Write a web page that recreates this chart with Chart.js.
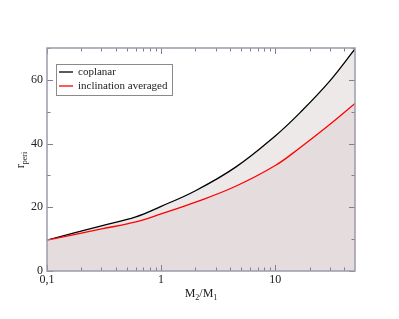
<!DOCTYPE html>
<html>
<head>
<meta charset="utf-8">
<script src="https://cdn.jsdelivr.net/npm/chart.js@4/dist/chart.umd.min.js"></script>
<style>
	html,body{margin:0;padding:0;background:#fff;}
	#wrap{width:399px;height:319px;position:relative;}
</style>
</head>
<body>
<div id="wrap"><canvas id="peri"></canvas></div>
<script>
	'use strict';

	// values
	var massRatio = [0.1, 0.3, 0.6, 1, 2, 4.5, 10, 16.6, 30, 50];
	var coplanar = [9.7, 14.2, 17.0, 20.3, 25.2, 32.6, 42.4, 49.8, 59.6, 69.7];
	var inclAveraged = [9.7, 13.2, 15.4, 17.9, 21.6, 26.6, 33.1, 38.8, 46.0, 52.6];

	var xMajor = [0.1, 1, 10];
	var xMinor = [0.2, 0.3, 0.4, 0.5, 0.6, 0.7, 0.8, 0.9, 2, 3, 4, 5, 6, 7, 8, 9, 20, 30, 40];
	var yTicks = [0, 10, 20, 30, 40, 50, 60, 70];
	var yLabelled = [0, 20, 40, 60];

	var serif = '"Liberation Serif", "DejaVu Serif", serif';
	var frameColor = '#9c9cac';
	var tickColor = '#7e7e98';

	function points(ys){
		return massRatio.map(function(x, i){ return {x: x, y: ys[i]}; });
	}

	// frame with inward ticks on all four sides, boxed legend, axis titles
	var decor = {
		id: 'decor',
		afterDraw: function(chart){
			var ctx = chart.ctx;
			var a = chart.chartArea;
			var sx = chart.scales.x, sy = chart.scales.y;
			ctx.save();

			ctx.strokeStyle = tickColor;
			ctx.lineWidth = 1;
			ctx.beginPath();
			xMajor.concat(xMinor).forEach(function(v){
				var px = Math.round(sx.getPixelForValue(v)) + 0.5;
				var len = xMajor.indexOf(v) >= 0 ? 6 : 3.5;
				ctx.moveTo(px, a.bottom); ctx.lineTo(px, a.bottom - len);
				ctx.moveTo(px, a.top); ctx.lineTo(px, a.top + len);
			});
			yTicks.forEach(function(v){
				var py = Math.round(sy.getPixelForValue(v)) + 0.5;
				var len = yLabelled.indexOf(v) >= 0 ? 6 : 3.5;
				ctx.moveTo(a.left, py); ctx.lineTo(a.left + len, py);
				ctx.moveTo(a.right, py); ctx.lineTo(a.right - len, py);
			});
			ctx.stroke();

			ctx.strokeStyle = frameColor;
			ctx.lineWidth = 1.5;
			ctx.strokeRect(a.left, a.top, a.right - a.left, a.bottom - a.top);

			// legend
			var lx = 56.5, ly = 64.5;
			ctx.fillStyle = '#fff';
			ctx.fillRect(lx, ly, 116, 31);
			ctx.strokeStyle = '#8a8a8a';
			ctx.lineWidth = 1;
			ctx.strokeRect(lx, ly, 116, 31);
			ctx.font = '11px ' + serif;
			ctx.textBaseline = 'middle';
			chart.data.datasets.forEach(function(ds, i){
				var y = 72 + i * 14;
				ctx.strokeStyle = ds.borderColor;
				ctx.lineWidth = 1.3;
				ctx.beginPath();
				ctx.moveTo(59, y); ctx.lineTo(73, y);
				ctx.stroke();
				ctx.fillStyle = '#222';
				ctx.fillText(ds.label, 78, y + 0.5);
			});

			// x title  M2/M1
			ctx.fillStyle = '#222';
			ctx.textBaseline = 'alphabetic';
			var parts = [['M', 12, 0], ['2', 8, 3], ['/M', 12, 0], ['1', 8, 3]];
			var w = 0;
			parts.forEach(function(p){ ctx.font = p[1] + 'px ' + serif; w += ctx.measureText(p[0]).width; });
			var cx = 201 - w / 2;
			parts.forEach(function(p){
				ctx.font = p[1] + 'px ' + serif;
				ctx.fillText(p[0], cx, 297 + p[2]);
				cx += ctx.measureText(p[0]).width;
			});

			// y title  r_peri
			ctx.translate(24, 160);
			ctx.rotate(-Math.PI / 2);
			ctx.font = '12px ' + serif;
			var w1 = ctx.measureText('r').width;
			ctx.font = '8px ' + serif;
			var w2 = ctx.measureText('peri').width;
			ctx.font = '12px ' + serif;
			ctx.fillText('r', -(w1 + w2) / 2, 0);
			ctx.font = '8px ' + serif;
			ctx.fillText('peri', -(w1 + w2) / 2 + w1, 3);

			ctx.restore();
		}
	};

	new Chart(document.getElementById('peri'), {
		type: 'line',
		data: {
			datasets: [
				{
					label: 'coplanar',
					data: points(coplanar),
					borderColor: '#000000',
					borderWidth: 1.3,
					backgroundColor: '#ede9e9',
					fill: 'origin',
					order: 2,
					pointRadius: 0,
					tension: 0.4
				},
				{
					label: 'inclination averaged',
					data: points(inclAveraged),
					borderColor: '#ff0000',
					borderWidth: 1.3,
					backgroundColor: '#e4dcdd',
					fill: 'origin',
					order: 1,
					pointRadius: 0,
					tension: 0.4
				}
			]
		},
		options: {
			responsive: true,
			maintainAspectRatio: false,
			animation: false,
			layout: {padding: {top: 48, right: 44, left: 0, bottom: 0}},
			plugins: {legend: {display: false}, tooltip: {enabled: false}},
			scales: {
				x: {
					type: 'logarithmic',
					min: 0.1,
					max: 50,
					grid: {display: false, drawTicks: false, tickLength: 0},
					border: {display: false},
					afterBuildTicks: function(s){
						s.ticks = xMajor.concat(xMinor).sort(function(p, q){ return p - q; }).map(function(v){ return {value: v}; });
					},
					afterFit: function(s){ s.height = 48; },
					ticks: {
						autoSkip: false,
						maxRotation: 0,
						padding: 2,
						color: '#222',
						font: {family: serif, size: 12},
						callback: function(v){
							return xMajor.indexOf(v) >= 0 ? String(v).replace('.', ',') : '';
						}
					}
				},
				y: {
					min: 0,
					max: 70,
					grid: {display: false, drawTicks: false, tickLength: 0},
					border: {display: false},
					afterBuildTicks: function(s){
						s.ticks = yTicks.map(function(v){ return {value: v}; });
					},
					afterFit: function(s){ s.width = 47; },
					ticks: {
						padding: 4,
						color: '#222',
						font: {family: serif, size: 12},
						callback: function(v){
							return yLabelled.indexOf(v) >= 0 ? String(v) : '';
						}
					}
				}
			}
		},
		plugins: [decor]
	});
</script>
</body>
</html>
